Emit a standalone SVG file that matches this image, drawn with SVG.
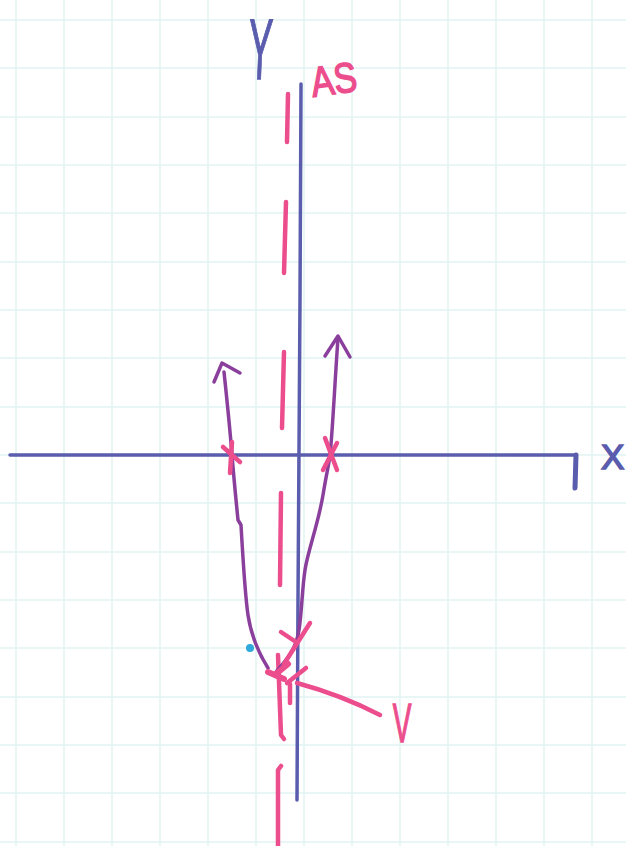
<svg xmlns="http://www.w3.org/2000/svg" width="626" height="846" viewBox="0 0 626 846">
<defs>
<style>
.grid{stroke:#e2f3f3;stroke-width:1.5;fill:none}
.axis{stroke:#5a5cad;stroke-width:3.5;fill:none;stroke-linecap:round;stroke-linejoin:round}
.curve{stroke:#8b3f9c;stroke-width:3.5;fill:none;stroke-linecap:round;stroke-linejoin:round}
.pink{stroke:#ec4d8c;stroke-width:4.5;fill:none;stroke-linecap:round;stroke-linejoin:round}
.lblB{fill:#5a5cad;stroke:#5a5cad;stroke-width:1.5;font-family:"Liberation Sans",Arial,sans-serif}
.lblP{fill:#ec4d8c;stroke:#ec4d8c;stroke-width:1.5;font-family:"Liberation Sans",Arial,sans-serif}
</style>
</defs>
<rect width="626" height="846" fill="#ffffff"/>
<g id="grid" class="grid">
<path d="M16 0V846M64 0V846M112 0V846M160 0V846M208 0V846M256 0V846M304 0V846M352 0V846M400 0V846M448 0V846M496 0V846M544 0V846M592 0V846"/>
<path d="M0 20H626M0 68H626M0 117H626M0 165H626M0 213H626M0 262H626M0 310H626M0 358H626M0 407H626M0 455H626M0 503H626M0 552H626M0 600H626M0 648H626M0 697H626M0 745H626M0 793H626M0 842H626"/>
</g>
<g id="asymptote" class="pink">
<path d="M288 94L287 142"/>
<path d="M286 202L284 273"/>
<path d="M284 352L282 428"/>
<path d="M281 493L280 585"/>
<path d="M278 655L281 735L284 739"/>
<path d="M281 766L278 770L278 846"/>
</g>
<g id="axes" class="axis">
<path d="M10 455L576 455"/>
<path d="M576 455L575 488" stroke-width="5"/>
<path d="M301 84L300 300L298 600L297 800"/>
</g>
<g id="parabola" class="curve">
<path d="M224 372C227 400 230 430 232 455S236 500 238 520L241 525C243 560 245 595 248 615S258 652 268 668"/>
<path d="M214 382L222 363L240 373"/>
<path d="M276 672C286 660 296 650 299 630S302 590 305 570S318 525 323 495S328 470 330 455S335 380 338 338"/>
<path d="M325 356L338 336L350 357"/>
</g>
<g id="marks" class="pink">
<path d="M223 447L240 462M232 442L230 473"/>
<path d="M325 438L337 470M337 443L323 470"/>
<path d="M281 632L296 642M310 623L284 664"/>
<path d="M268 672L284 679M276 674L288 664" stroke-width="6"/>
<path d="M290 684L290 703M306 668L287 683M297 683C330 692 355 702 380 715"/>
</g>
<circle id="dot" cx="250" cy="648" r="4" fill="#2fa8dc"/>
<g id="labels">
<text class="lblB" transform="translate(259,79) scale(0.42,1) skewX(-6)" text-anchor="middle" font-size="86">Y</text>
<text class="lblB" x="601" y="469" font-size="35">X</text>
<text class="lblP" transform="translate(313,97) rotate(-8) scale(0.82,1)" font-size="42">AS</text>
<text class="lblP" transform="translate(402,742) scale(0.5,1)" text-anchor="middle" font-size="56">V</text>
</g>
</svg>
